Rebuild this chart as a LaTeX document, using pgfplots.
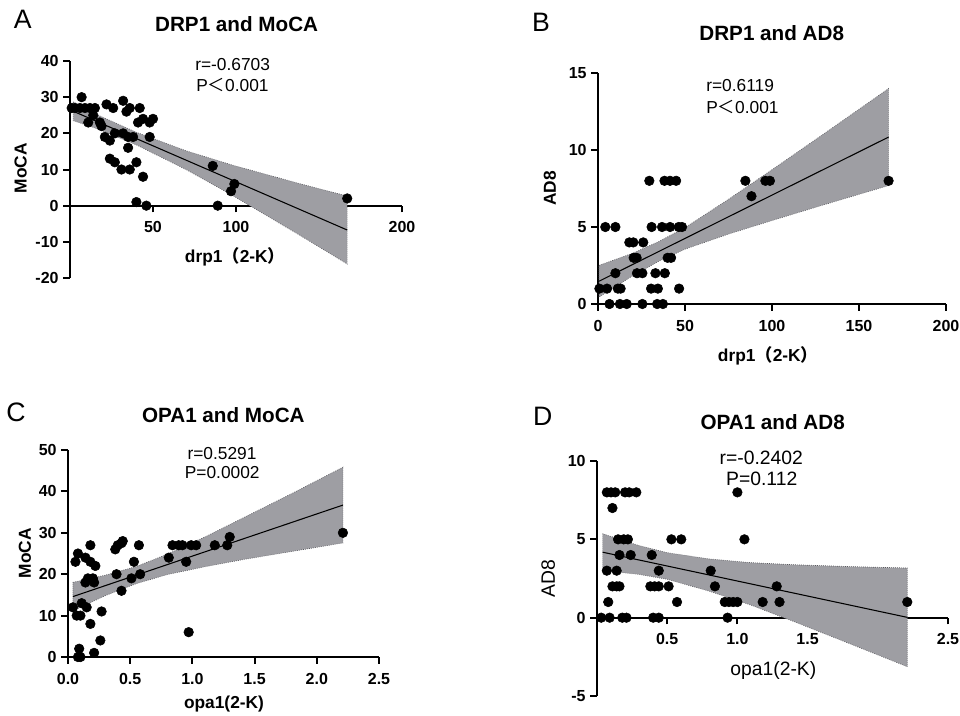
\documentclass[border=0pt]{standalone}
\usepackage{fontspec}
\setmainfont{Liberation Sans}
\newfontfamily\cjk{Noto Sans CJK SC}
\usepackage{pgfplots}
\pgfplotsset{compat=1.18}
\definecolor{bandgray}{RGB}{158,158,163}
\definecolor{bandedge}{RGB}{90,90,95}
\tikzset{
  ttl/.style={font=\bfseries\fontsize{15.5}{18}\selectfont,inner sep=0pt},
  lab/.style={font=\bfseries\fontsize{13}{15}\selectfont,inner sep=0pt},
  ann/.style={font=\fontsize{13}{15}\selectfont,inner sep=0pt},
  let/.style={font=\fontsize{20}{22}\selectfont,inner sep=0pt}
}
\pgfplotsset{
  corr/.style={scale only axis, clip=false, axis on top=false,
    axis y line*=left,
    axis line style={line width=1.5pt,black},
    tick style={line width=1.5pt,black}, major tick length=5pt, tick align=outside,
    xticklabel={\pgfmathprintnumber{\tick}}, yticklabel={\pgfmathprintnumber{\tick}},
    tick label style={font=\bfseries\fontsize{12}{14}\selectfont},
    every x tick label/.append style={yshift=-3.5pt},
    /pgf/number format/assume math mode=true,
    hide obscured x ticks=false, hide obscured y ticks=false},
  band/.style={fill=bandgray, draw=bandedge, densely dotted, line width=0.5pt},
  fit/.style={black, line width=0.8pt},
  pts/.style={only marks, mark=*, mark size=3.6pt, black}
}
\begin{document}
\begin{tikzpicture}
\path[use as bounding box] (0pt,0pt) rectangle (720pt,-536.25pt);

% A: DRP1 and MoCA
\begin{axis}[corr, at={(52.5pt,-208.5pt)}, anchor=south west,
  width=249pt, height=162.75pt, axis x line*=middle,
  xmin=0, xmax=200, ymin=-20, ymax=40,
  xtick={50,100,150,200}, ytick={-20,-10,0,10,20,30,40}]
\addplot[band] coordinates {(2,28.7) (18,24.8) (40,20.29) (70,15.17) (98,11.2) (138,6.14) (167,2.67)
  (167,-16.13) (138,-8.06) (98,2.8) (70,9.97) (40,16.79) (18,21.0) (2,23.5)} -- cycle;
\addplot[fit] coordinates {(2,26.1) (167,-6.73)};
\addplot[pts] coordinates {(1,27) (3,27) (6,27) (9,27) (12,27) (15,27) (7,30) (14,25) (11,23) (18,23)
  (19,22) (21,19) (24,18) (22,28) (26,27) (32,29) (34,26) (36,27) (42,27) (41,23) (44,24) (48,23)
  (50,24) (48,19) (27,20) (32,20) (35,19) (38,19) (35,16) (24,13) (27,12) (31,10) (36,10) (40,12)
  (44,8) (40,1) (46,0) (86,11) (99,6) (97,4) (89,0) (167,2)};
\end{axis}

% B: DRP1 and AD8
\begin{axis}[corr, at={(448.5pt,-228pt)}, anchor=south west,
  width=261pt, height=173.25pt, axis x line*=bottom,
  xmin=0, xmax=200, ymin=0, ymax=15,
  xtick={0,50,100,150,200}, ytick={0,5,10,15}]
\addplot[band] coordinates {(0.6,2.51) (20,3.30) (35,4.06) (50,4.96) (75,6.80) (100,8.72) (130,11.07) (167,13.99)
  (167,7.69) (130,6.45) (100,5.42) (75,4.54) (50,3.56) (35,2.78) (20,1.84) (0.6,0.45)} -- cycle;
\addplot[fit] coordinates {(0.6,1.48) (167,10.84)};
\addplot[pts] coordinates {(29.5,8) (38.2,8) (41.4,8) (44.9,8) (84.7,8) (96.2,8) (98.8,8) (167,8)
  (88.2,7)
  (4.2,5) (10,5) (30.8,5) (36.8,5) (41.4,5) (46.4,5) (48.3,5)
  (18,4) (20.3,4) (26,4)
  (20.5,3) (22.2,3) (40,3) (42,3)
  (10,2) (22.4,2) (25.5,2) (33,2) (38.4,2)
  (0.8,1) (5.2,1) (11.4,1) (13,1) (30.5,1) (34.4,1) (46.6,1)
  (6.6,0) (12.6,0) (16.5,0) (25.5,0) (34,0) (37.3,0)};
\end{axis}

% C: OPA1 and MoCA
\begin{axis}[corr, at={(51pt,-492.75pt)}, anchor=south west,
  width=233.25pt, height=155.25pt, axis x line*=bottom,
  xmin=0, xmax=2.5, ymin=0, ymax=50,
  xtick={0,0.5,1,1.5,2,2.5}, ytick={0,10,20,30,40,50},
  xticklabel style={/pgf/number format/.cd,fixed,fixed zerofill,precision=1}]
\addplot[band] coordinates {(0.04,18.05) (0.3,19.77) (0.55,21.87) (0.8,24.87) (1.1,29.0) (1.4,33.5) (1.8,39.5) (2.21,45.85)
  (2.21,27.55) (1.8,25.5) (1.4,23.5) (1.1,21.8) (0.8,19.93) (0.55,17.73) (0.3,14.83) (0.04,11.15)} -- cycle;
\addplot[fit] coordinates {(0.04,14.6) (2.21,36.7)};
\addplot[pts] coordinates {(0.04,12) (0.07,10) (0.10,10) (0.06,23) (0.08,25) (0.18,27) (0.14,24) (0.18,23)
  (0.22,22) (0.14,18) (0.16,19) (0.2,19) (0.21,18) (0.11,13) (0.15,12) (0.27,11) (0.18,8) (0.26,4)
  (0.09,2) (0.08,0) (0.1,0) (0.21,1) (0.39,20) (0.38,26) (0.40,27) (0.43,27.5) (0.44,28) (0.43,16)
  (0.57,27) (0.53,23) (0.51,19) (0.58,20) (0.81,24) (0.84,27) (0.89,27) (0.92,27) (0.95,23) (0.99,27)
  (1.03,27) (0.97,6) (1.18,27) (1.28,27) (1.3,29) (2.21,30)};
\end{axis}

% D: OPA1 and AD8
\begin{axis}[corr, at={(447.75pt,-522pt)}, anchor=south west,
  width=263.25pt, height=176.25pt, axis x line*=middle,
  xmin=0, xmax=2.5, ymin=-5, ymax=10,
  xtick={0.5,1,1.5,2,2.5}, ytick={-5,0,5,10},
  xticklabel style={/pgf/number format/.cd,fixed,fixed zerofill,precision=1}]
\addplot[band] coordinates {(0.04,5.36) (0.3,4.60) (0.5,4.15) (0.8,3.75) (1.1,3.51) (1.4,3.38) (1.8,3.26) (2.21,3.17)
  (2.21,-3.13) (1.8,-1.66) (1.4,-0.24) (1.1,0.79) (0.8,1.69) (0.5,2.45) (0.3,2.76) (0.04,3.00)} -- cycle;
\addplot[fit] coordinates {(0.04,4.18) (2.21,0.02)};
\addplot[pts] coordinates {(0.07,8) (0.10,8) (0.13,8) (0.20,8) (0.23,8) (0.28,8) (1.0,8)
  (0.11,7)
  (0.15,5) (0.19,5) (0.22,5) (0.53,5) (0.60,5) (1.05,5)
  (0.16,4) (0.24,4) (0.39,4)
  (0.07,3) (0.14,3) (0.44,3) (0.81,3)
  (0.11,2) (0.14,2) (0.16,2) (0.38,2) (0.41,2) (0.44,2) (0.51,2) (0.84,2) (1.28,2)
  (0.08,1) (0.57,1) (0.91,1) (0.94,1) (0.97,1) (1.0,1) (1.18,1) (1.3,1) (2.21,1)
  (0.03,0) (0.09,0) (0.18,0) (0.21,0) (0.40,0) (0.44,0) (0.93,0)};
\end{axis}

% texts
\node[let] at (17pt,-14.25pt) {A};
\node[ttl] at (177.5pt,-18.2pt) {DRP1 and MoCA};
\node[ann,anchor=west] at (146.25pt,-48.75pt) {r=-0.6703};
\node[ann,anchor=west] at (147pt,-63.75pt) {P{\cjk ＜}0.001};
\node[lab,rotate=90] at (15.5pt,-126.2pt) {MoCA};
\node[lab] at (176.25pt,-192.5pt) {drp1{\cjk （}2-K{\cjk ）}};

\node[let] at (405.75pt,-16.5pt) {B};
\node[ttl] at (578.8pt,-25pt) {DRP1 and AD8};
\node[ann,anchor=west] at (529.5pt,-64.5pt) {r=0.6119};
\node[ann,anchor=west] at (529.5pt,-80pt) {P{\cjk ＜}0.001};
\node[lab,rotate=90] at (412.5pt,-141.2pt) {AD8};
\node[lab] at (576pt,-267pt) {drp1{\cjk （}2-K{\cjk ）}};

\node[let] at (12pt,-309.5pt) {C};
\node[ttl] at (167.5pt,-311.25pt) {OPA1 and MoCA};
\node[ann] at (166.5pt,-340pt) {r=0.5291};
\node[ann] at (166.7pt,-354.5pt) {P=0.0002};
\node[lab,rotate=90] at (18.75pt,-415pt) {MoCA};
\node[lab] at (168pt,-528pt) {opa1(2-K)};

\node[let] at (407pt,-312pt) {D};
\node[ttl] at (579.5pt,-316.3pt) {OPA1 and AD8};
\node[ann,font=\fontsize{14.5}{16}\selectfont] at (571pt,-343.7pt) {r=-0.2402};
\node[ann,font=\fontsize{14.5}{16}\selectfont] at (571.3pt,-359.5pt) {P=0.112};
\node[ann,font=\fontsize{14.5}{16}\selectfont,rotate=90] at (411.2pt,-433.7pt) {AD8};
\node[ann,font=\fontsize{14.5}{16}\selectfont] at (580pt,-502.5pt) {opa1(2-K)};
\end{tikzpicture}
\end{document}
